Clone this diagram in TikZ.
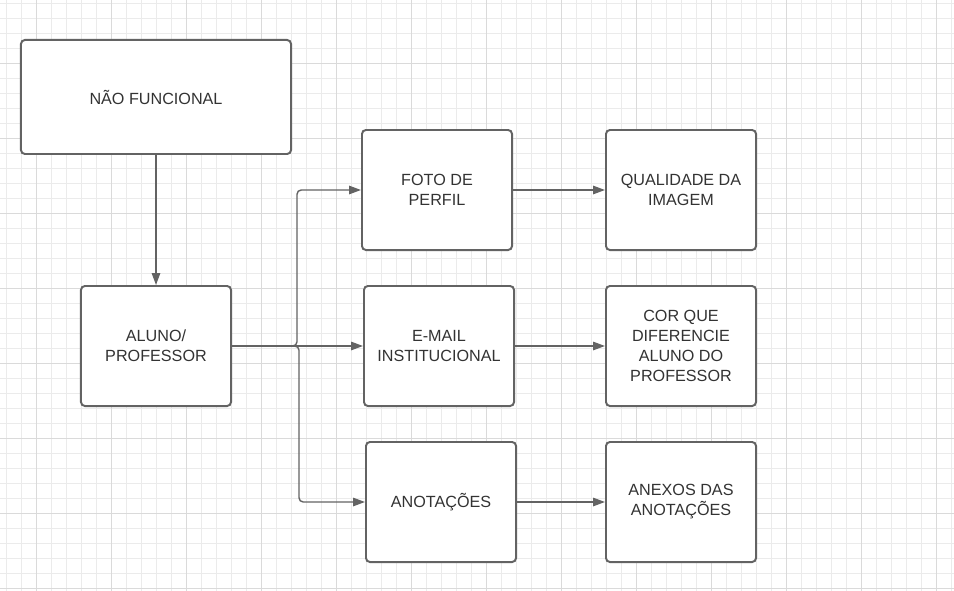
\documentclass[tikz,border=0pt]{standalone}
\usepackage{fontspec}
\setmainfont{Liberation Sans}
\usetikzlibrary{arrows.meta}

\definecolor{linha}{HTML}{636363}
\definecolor{texto}{HTML}{333333}
\definecolor{gradefina}{HTML}{EBEBEB}
\definecolor{gradegrossa}{HTML}{DADADA}

\tikzset{
    caixa/.style={draw=linha, line width=1.4pt, rounded corners=2.8pt, fill=white,
        minimum width=3.75cm, minimum height=3cm, align=center, text=texto,
        font=\fontsize{11.5}{14.2}\selectfont},
    seta/.style={draw=linha, line width=1pt, rounded corners=3pt,
        -{Triangle[length=8.5pt,width=6pt]}}
}

\begin{document}
\begin{tikzpicture}[x=0.025cm,y=-0.025cm]
        \useasboundingbox (0,0) rectangle (954,591);
        \fill[white] (0,0) rectangle (954,591);

        % Grade de fundo
        \foreach \x in {6.7,21.7,...,954} \draw[gradefina, line width=0.6pt] (\x,0) -- (\x,591);
        \foreach \y in {3.3,18.3,...,591} \draw[gradefina, line width=0.6pt] (0,\y) -- (954,\y);
        \foreach \x in {36.7,111.7,...,954} \draw[gradegrossa, line width=0.6pt] (\x,0) -- (\x,591);
        \foreach \y in {63.3,138.3,...,591} \draw[gradegrossa, line width=0.6pt] (0,\y) -- (954,\y);

        % Caixas
        \node[caixa, minimum width=6.75cm, minimum height=2.85cm] (naofuncional) at (156,97) {NÃO FUNCIONAL};
        \node[caixa] (aluno) at (156,346) {ALUNO/\\PROFESSOR};

        \node[caixa] (foto) at (437,190) {FOTO DE\\PERFIL};
        \node[caixa] (email) at (439,346) {E-MAIL\\INSTITUCIONAL};
        \node[caixa] (anotacoes) at (441,502) {ANOTAÇÕES};

        \node[caixa] (qualidade) at (681,190) {QUALIDADE DA\\IMAGEM};
        \node[caixa] (cor) at (681,346) {COR QUE\\DIFERENCIE\\ALUNO DO\\PROFESSOR};
        \node[caixa] (anexos) at (681,502) {ANEXOS DAS\\ANOTAÇÕES};

        % Setas
        \draw[seta] (naofuncional.south) -- (aluno.north);
        \draw[seta] (aluno.east) -- ++(65,0) |- (foto.west);
        \draw[seta] (aluno.east) -- (email.west);
        \draw[seta] (aluno.east) -- ++(67,0) |- (anotacoes.west);

        \draw[seta] (foto.east) -- (qualidade.west);
        \draw[seta] (email.east) -- (cor.west);
        \draw[seta] (anotacoes.east) -- (anexos.west);
    \end{tikzpicture}
\end{document}
